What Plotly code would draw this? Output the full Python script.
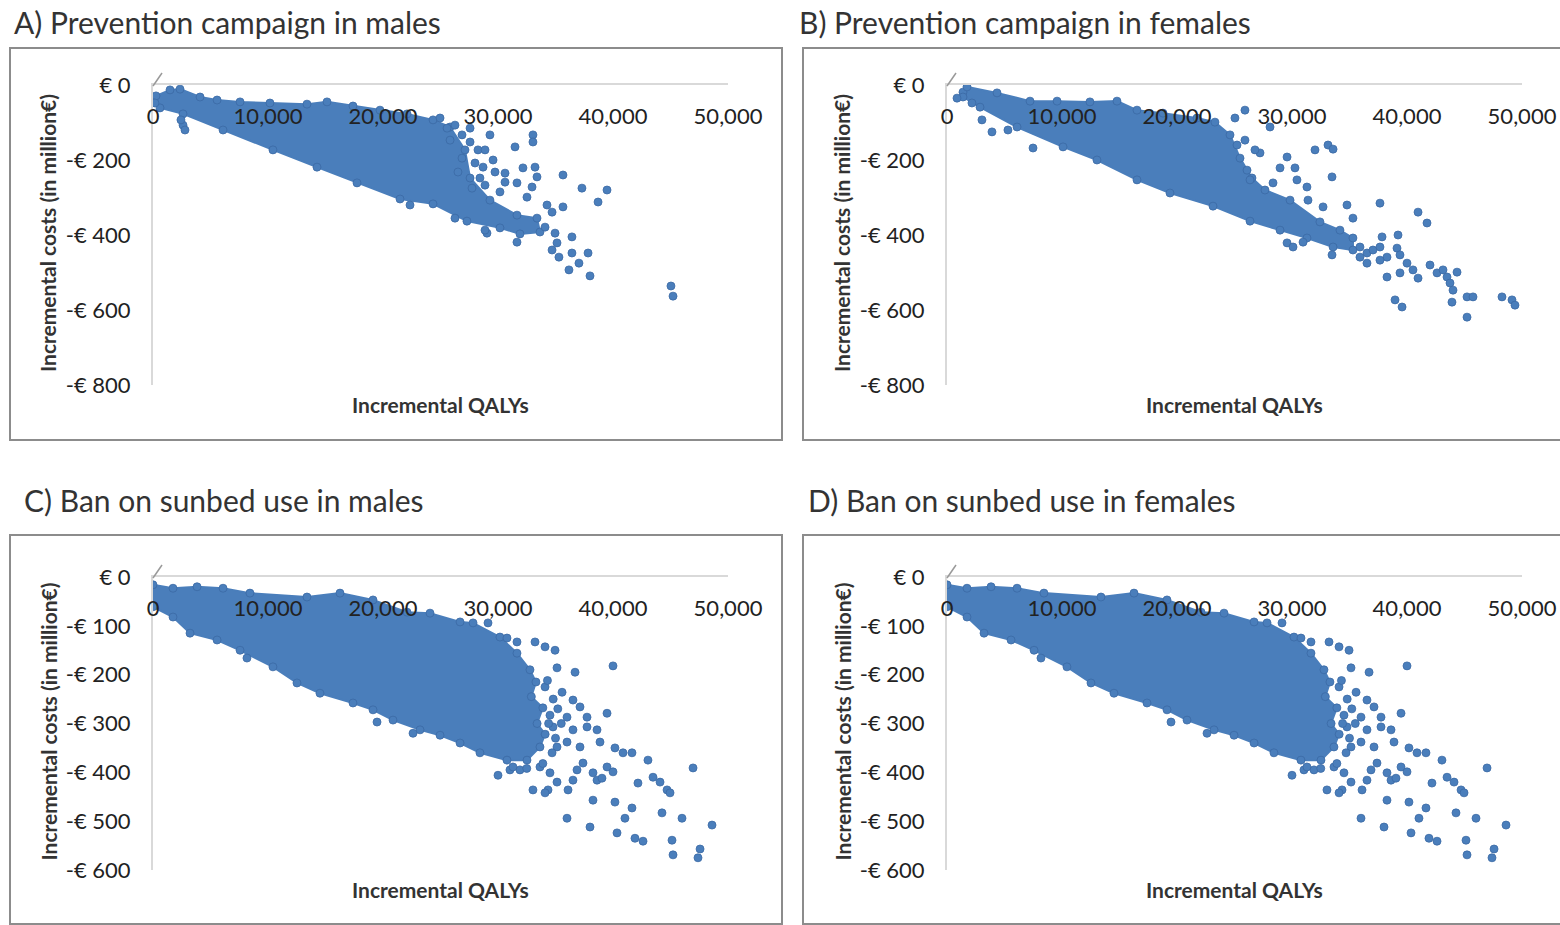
import plotly.graph_objects as go

W, H = 1560, 925

# ---------------- tick labels / titles ----------------
qaly_ticks = [0, 10000, 20000, 30000, 40000, 50000]
qaly_ticktext = ["0", "10,000", "20,000", "30,000", "40,000", "50,000"]
cost_ticks_ab = [0, -200, -400, -600, -800]
cost_ticktext_ab = ["€ 0", "-€ 200", "-€ 400", "-€ 600", "-€ 800"]
cost_ticks_cd = [0, -100, -200, -300, -400, -500, -600]
cost_ticktext_cd = ["€ 0", "-€ 100", "-€ 200", "-€ 300", "-€ 400", "-€ 500", "-€ 600"]
panel_titles = ["A) Prevention campaign in males", "B) Prevention campaign in females",
                "C) Ban on sunbed use in males", "D) Ban on sunbed use in females"]
x_title = "Incremental QALYs"
y_title = "Incremental costs (in million€)"

# ---------------- data ----------------
# dense (saturated) region outlines + individual visible points
prev_m_core_x = [260, 1480, 2350, 4090, 5570, 7570, 10170, 13390, 15130, 17390, 19740, 22090, 24350, 25830, 27130, 27570, 29300, 31650, 33390,
                 33650, 31910, 30170, 27300, 24350, 21480, 17740, 14260, 10430, 6090, 2610, 610, 170]
prev_m_core_y = [-29, -13, -11, -32, -40, -45, -48, -51, -45, -56, -67, -77, -93, -112, -173, -248, -307, -347, -355,
                 -392, -397, -381, -363, -317, -304, -261, -219, -173, -120, -77, -61, -48]
prev_m_x = [25570, 27570, 29300, 31480, 33040, 33040, 29570, 28700, 30610, 32170, 33220, 33390, 35650, 37300, 39480, 38700, 32960, 34260, 35650,
            34700, 32520, 30170, 31650, 29040, 31650, 34090, 34960, 36430, 35130, 34700, 35300, 36430, 37830, 37040, 36170, 38000, 45040, 45220,
            24960, 26260, 26870, 25830, 27570, 28260, 26870, 28000, 28870, 26520, 27740, 28870, 29740, 30610, 28430,
            2610, 2780, 2430, 22350, 26260, 28870]
prev_m_y = [-115, -115, -133, -165, -133, -152, -200, -219, -235, -221, -219, -245, -240, -275, -280, -312, -272, -320, -325,
            -339, -299, -285, -261, -395, -419, -379, -395, -405, -421, -440, -459, -448, -448, -475, -493, -509, -536, -563,
            -88, -107, -133, -147, -152, -173, -195, -208, -173, -232, -275, -267, -232, -259, -248,
            -107, -120, -93, -320, -355, -387]

prev_f_core_x = [1390, 1740, 4350, 7220, 9570, 12430, 14780, 16520, 18780, 21740, 23300, 24610, 25480, 26520, 27650, 29830, 32430, 34170, 35300,
                 35300, 33570, 31300, 28960, 26350, 23130, 19390, 16520, 13040, 10090, 6090, 2870, 1390]
prev_f_core_y = [-19, -5, -21, -43, -43, -45, -43, -67, -75, -88, -99, -133, -195, -248, -280, -307, -365, -387, -408,
                 -440, -432, -408, -387, -363, -323, -288, -253, -200, -165, -112, -59, -32]
prev_f_x = [870, 2170, 3040, 3910, 5300, 7480,
            28090, 27220, 29570, 30260, 30430, 31300, 31390, 32000, 33130, 33570, 33480, 28960, 26350, 28350, 32700, 34780, 35300,
            37650, 37830, 39220, 40960, 41740, 29570, 30090, 30960, 33480,
            35910, 36520, 37040, 37650, 38260, 39130, 39390, 40000, 40520, 38260, 39390, 40960, 42000, 42610, 43130, 43480, 44350,
            43740, 44000, 45220, 45740, 43910, 45220, 38960, 39570, 48260, 49130, 49390, 35910, 36520, 37650,
            26090, 25040, 25910, 25910, 26780, 25220]
prev_f_y = [-35, -48, -93, -125, -120, -168,
            -112, -181, -192, -221, -253, -272, -307, -173, -160, -171, -245, -221, -253, -261, -325, -320, -355,
            -315, -405, -400, -339, -368, -421, -432, -419, -453,
            -432, -448, -440, -432, -459, -435, -453, -475, -493, -512, -501, -515, -480, -501, -493, -512, -499,
            -528, -547, -565, -565, -579, -619, -573, -592, -565, -573, -587, -459, -475, -467,
            -227, -88, -67, -147, -173, -160]

ban_m_core_x = [0, 1740, 3830, 6090, 8430, 13390, 16260, 19130, 22090, 24090, 26700, 27830, 30170, 31650, 32780, 33300, 32900, 33900, 33400, 34100,
                33650, 32520, 30780, 28430, 26700, 24960, 23220, 20870, 19130, 17390, 14520, 12520, 10430, 7570, 5570, 3220, 1740, 0]
ban_m_core_y = [-16, -23, -20, -23, -33, -41, -33, -47, -72, -74, -92, -94, -123, -156, -190, -215, -245, -268, -300, -322,
                -348, -375, -375, -360, -340, -324, -313, -293, -272, -258, -238, -217, -184, -150, -129, -115, -82, -61]
ban_m_x = [29130, 30780, 31650, 33220, 34090, 34960, 35130, 36700, 40000, 34090, 35570, 36520, 37130, 37740, 39480, 34520, 36000,
           34780, 36520, 37740, 38610, 38870, 36000, 37130, 35130, 40170, 40870, 41650, 43040, 39480, 40000, 37390, 36870, 38260,
           36520, 34520, 33650, 35130, 34350, 33040, 34090, 36090, 38610, 39040, 42170, 43480, 44090, 44700, 44960, 46960, 31910,
           31040, 30000, 31300, 38260, 40170, 41650, 41040, 44260, 46000, 36000, 38000, 40350, 41910, 42610, 45130, 45220, 47570,
           47390, 48610, 8170, 19480, 22610,
           34800, 35200, 34400, 35000, 34700, 33900, 35500, 32500, 34300]
ban_m_y = [-94, -125, -133, -133, -143, -150, -186, -195, -182, -225, -236, -252, -266, -287, -279, -283, -287,
           -307, -313, -307, -313, -338, -338, -348, -348, -350, -360, -360, -375, -389, -399, -381, -395, -401,
           -416, -401, -389, -420, -436, -436, -442, -436, -416, -412, -422, -410, -420, -436, -442, -391, -395,
           -395, -406, -389, -457, -461, -473, -494, -483, -494, -494, -512, -524, -535, -541, -539, -569, -557,
           -575, -508, -166, -297, -320,
           -250, -270, -300, -330, -360, -382, -300, -392, -212]

# panel D reads identically to panel C
ban_f_core_x = list(ban_m_core_x)
ban_f_core_y = list(ban_m_core_y)
ban_f_x = list(ban_m_x)
ban_f_y = list(ban_m_y)

# ---------------- styling ----------------
BLUE = "#4a7ebb"
EDGE = "#3b6aa5"
AXLINE = "#d9d9d9"
FONT = "Lato"


def px_x(p):
    return p / W


def px_y(p):
    return 1 - p / H


# plot areas in pixels: (left, right, top, bottom)
areas = [(153, 728, 85, 385), (947, 1522, 85, 385), (153, 728, 577, 870), (947, 1522, 577, 870)]
boxes = [(10, 782, 48, 440), (803, 1563, 48, 440), (10, 782, 535, 924), (803, 1563, 535, 924)]
title_pos = [(12, 22), (797, 22), (22, 500), (806, 500)]

datasets = [
    (prev_m_core_x, prev_m_core_y, prev_m_x, prev_m_y, cost_ticks_ab, cost_ticktext_ab, -800),
    (prev_f_core_x, prev_f_core_y, prev_f_x, prev_f_y, cost_ticks_ab, cost_ticktext_ab, -800),
    (ban_m_core_x, ban_m_core_y, ban_m_x, ban_m_y, cost_ticks_cd, cost_ticktext_cd, -600),
    (ban_f_core_x, ban_f_core_y, ban_f_x, ban_f_y, cost_ticks_cd, cost_ticktext_cd, -600),
]

fig = go.Figure()
layout = dict(width=W, height=H, autosize=False,
              margin=dict(l=0, r=0, t=0, b=0, pad=0, autoexpand=False), paper_bgcolor="white",
              plot_bgcolor="white", showlegend=False, font=dict(family=FONT, color="#222222"))
shapes = []
annotations = []

for i, (cx, cy, sx, sy, yt, ytt, ymin) in enumerate(datasets):
    n = "" if i == 0 else str(i + 1)
    xa, ya = "x" + n, "y" + n
    l, r, t, b = areas[i]
    fig.add_trace(go.Scatter(x=cx, y=cy, xaxis=xa, yaxis=ya, mode="lines+markers", fill="toself",
                             fillcolor=BLUE, line=dict(color=BLUE, width=2),
                             marker=dict(size=8, color=BLUE, line=dict(color=EDGE, width=0.8)),
                             hoverinfo="skip"))
    fig.add_trace(go.Scatter(x=sx, y=sy, xaxis=xa, yaxis=ya, mode="markers",
                             marker=dict(size=8, color=BLUE, line=dict(color=EDGE, width=0.8))))
    layout["xaxis" + n] = dict(domain=[px_x(l), px_x(r)], range=[0, 50000], anchor=ya, side="top",
                               automargin=False,
                               ticklabelposition="inside", ticklabeloverflow="allow", ticklabelstandoff=25,
                               tickvals=qaly_ticks, ticktext=qaly_ticktext, ticks="",
                               showline=True, linecolor=AXLINE, linewidth=2, showgrid=False, zeroline=False,
                               tickfont=dict(family=FONT, size=22, color="#222222"))
    layout["yaxis" + n] = dict(domain=[px_y(b), px_y(t)], range=[ymin, 0], anchor=xa,
                               automargin=False,
                               tickvals=yt, ticktext=ytt, ticks="", ticklabelstandoff=16,
                               showline=True, linecolor=AXLINE, linewidth=2, showgrid=False, zeroline=False,
                               tickfont=dict(family=FONT, size=22, color="#222222"))
    bl, br, bt, bb = boxes[i]
    shapes.append(dict(type="rect", xref="paper", yref="paper", x0=px_x(bl), x1=px_x(br),
                       y0=px_y(bb), y1=px_y(bt), line=dict(color="#8c8c8c", width=2), layer="below"))
    shapes.append(dict(type="line", xref="paper", yref="paper", x0=px_x(l), x1=px_x(l + 9),
                       y0=px_y(t + 1), y1=px_y(t - 12), line=dict(color="#999999", width=1.5)))
    tx, ty = title_pos[i]
    annotations.append(dict(text=panel_titles[i], xref="paper", yref="paper", x=px_x(tx), y=px_y(ty),
                            xanchor="left", yanchor="middle", showarrow=False,
                            font=dict(family=FONT, size=30, color="#333333")))
    annotations.append(dict(text="<b>" + x_title + "</b>", xref="paper", yref="paper",
                            x=px_x((l + r) / 2), y=px_y(b + 19), xanchor="center", yanchor="middle",
                            showarrow=False, font=dict(family=FONT, size=21, color="#333333")))
    annotations.append(dict(text="<b>" + y_title + "</b>", xref="paper", yref="paper",
                            x=px_x(l - 105), y=px_y((t + b) / 2 - 2), xanchor="center", yanchor="middle",
                            textangle=-90, showarrow=False, font=dict(family=FONT, size=21, color="#333333")))

layout["shapes"] = shapes
layout["annotations"] = annotations
fig.update_layout(**layout)
fig.write_html("out.html")
